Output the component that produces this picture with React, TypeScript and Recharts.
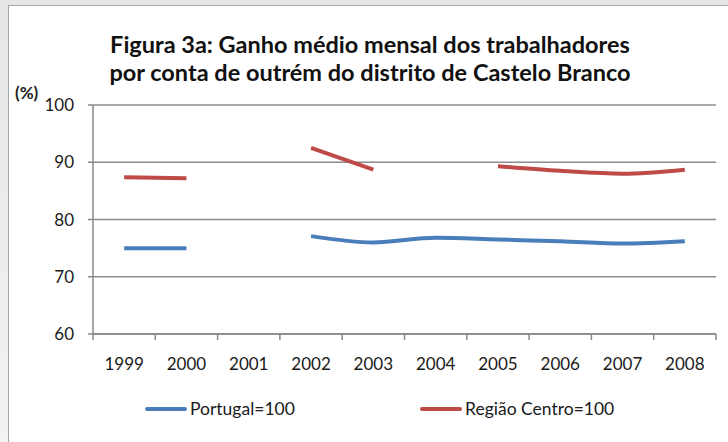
import { LineChart, Line, XAxis, YAxis, CartesianGrid } from 'recharts';

const years = ['1999', '2000', '2001', '2002', '2003', '2004', '2005', '2006', '2007', '2008'];
const portugal = [75.0, 75.0, null, 77.1, 76.0, 76.8, 76.5, 76.2, 75.8, 76.2];
const centro = [87.4, 87.2, null, 92.5, 88.7, null, 89.3, 88.5, 88.0, 88.7];
const yTicks = [60, 70, 80, 90, 100];

const seriesNames = ['Portugal=100', 'Região Centro=100'];
const seriesColors = ['#4a7ebb', '#be4b48'];

const data = years.map((y, i) => ({ year: y, portugal: portugal[i], centro: centro[i] }));

const FONT = 'Lato, "Open Sans", sans-serif';
const AXIS = '#888888';

function YearTick(props: any) {
  const { x, y, payload, index, visibleTicksCount } = props;
  const half = payload.offset ?? 31;
  const last = index === (visibleTicksCount ?? years.length) - 1;
  return (
    <g>
      <line x1={x - half} x2={x - half} y1={y - 8} y2={y - 2} stroke={AXIS} strokeWidth={1.5} />
      {last && <line x1={x + half} x2={x + half} y1={y - 8} y2={y - 2} stroke={AXIS} strokeWidth={1.5} />}
      <text x={x} y={y + 28} textAnchor="middle" fill="#1a1a1a" fontSize={17} fontFamily={FONT}>
        {payload.value}
      </text>
    </g>
  );
}

export default function App() {
  return (
    <div style={{ position: 'fixed', left: 0, top: 0, width: 728, height: 442, overflow: 'hidden', background: 'linear-gradient(180deg, #e6e6e6 0%, #f2f2f2 100%)' }}>
      <div style={{ position: 'absolute', left: 8, top: 5, right: 0, bottom: 0, background: '#fff', borderLeft: '1.5px solid #a6a6a6', borderTop: '1.5px solid #a6a6a6' }} />
      <div style={{ position: 'absolute', left: 0, top: 30, width: 740, textAlign: 'center', fontFamily: FONT, fontWeight: 700, fontSize: 23.5, lineHeight: '28px', color: '#111' }}>
        Figura 3a: Ganho médio mensal dos trabalhadores<br />por conta de outrém do distrito de Castelo Branco
      </div>
      <div style={{ position: 'absolute', left: 15, top: 82, fontFamily: FONT, fontWeight: 700, fontSize: 17, color: '#222' }}>(%)</div>
      <div style={{ position: 'absolute', left: 0, top: 0 }}>
        <LineChart width={728} height={442} data={data} margin={{ top: 105, right: 12, left: 33, bottom: 78 }}>
          <CartesianGrid vertical={false} stroke="#8c8c8c" strokeWidth={1.5} />
          <XAxis
            dataKey="year"
            scale="band"
            height={30}
            stroke={AXIS}
            strokeWidth={1.5}
            tickLine={false}
            tick={<YearTick />}
            interval={0}
          />
          <YAxis
            domain={[60, 100]}
            ticks={yTicks}
            width={60}
            stroke={AXIS}
            strokeWidth={1.5}
            tickSize={5}
            tickMargin={14}
            tick={{ fill: '#1a1a1a', fontSize: 17, fontFamily: FONT }}
          />
          <Line dataKey="portugal" name={seriesNames[0]} stroke={seriesColors[0]} strokeWidth={4} dot={false} type="monotone" isAnimationActive={false} />
          <Line dataKey="centro" name={seriesNames[1]} stroke={seriesColors[1]} strokeWidth={4} dot={false} type="monotone" isAnimationActive={false} />
        </LineChart>
      </div>
      {seriesNames.map((n, i) => (
        <div key={n} style={{ position: 'absolute', left: i === 0 ? 145 : 420, top: 398, display: 'flex', alignItems: 'center', fontFamily: FONT, fontSize: 17.5, color: '#1a1a1a' }}>
          <div style={{ width: 42, height: 4, background: seriesColors[i], marginRight: 3, borderRadius: 2 }} />
          {n}
        </div>
      ))}
    </div>
  );
}
